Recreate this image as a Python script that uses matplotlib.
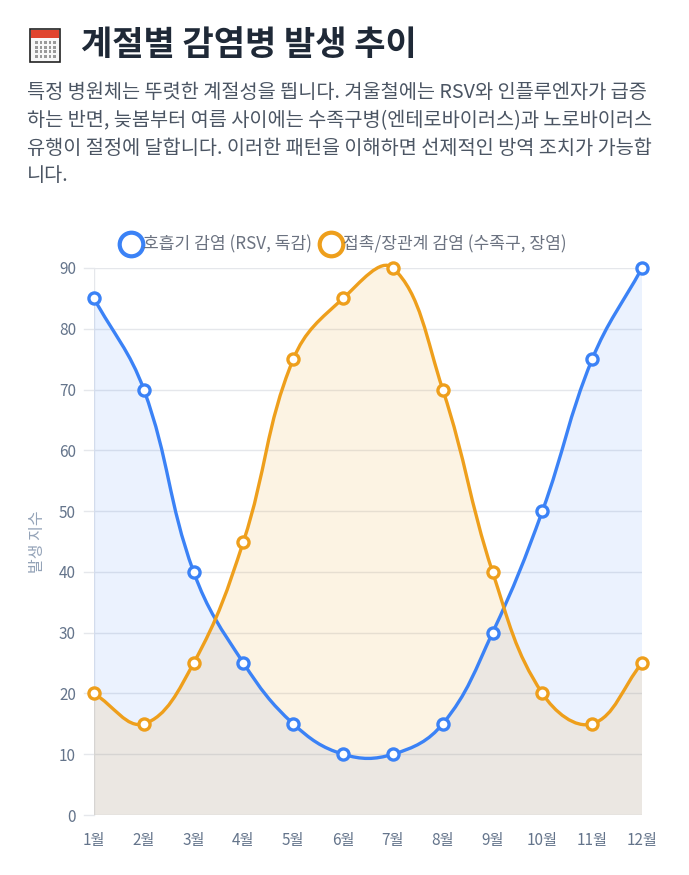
import numpy as np
import matplotlib.pyplot as plt
from matplotlib.path import Path
from matplotlib.patches import PathPatch, Rectangle

plt.rcParams['font.family'] = ['Noto Sans CJK KR', 'DejaVu Sans']

months = ['1월', '2월', '3월', '4월', '5월', '6월', '7월', '8월', '9월', '10월', '11월', '12월']
resp = [85, 70, 40, 25, 15, 10, 10, 15, 30, 50, 75, 90]
enteric = [20, 15, 25, 45, 75, 85, 90, 70, 40, 20, 15, 25]
labels = ['호흡기 감염 (RSV, 독감)', '접촉/장관계 감염 (수족구, 장염)']
blue = '#3b82f6'
orange = '#ee9f1c'

W, H = 689, 875
fig = plt.figure(figsize=(W / 100, H / 100), dpi=100)
ax = fig.add_axes([94 / W, 1 - 815 / H, (642 - 94) / W, (815 - 268) / H])
ax.set_xlim(0, 11)
ax.set_ylim(0, 90)

# pixel scale so the spline tension works like chart.js (tension 0.4)
sx = (642 - 94) / 11
sy = (815 - 268) / 90


def spline_path(vals, close=False):
    xs = np.arange(len(vals)) * sx
    ys = np.array(vals, float) * sy
    n = len(vals)
    cps = []
    t = 0.4
    for i in range(n):
        p = np.array([xs[i], ys[i]])
        prev = np.array([xs[max(i - 1, 0)], ys[max(i - 1, 0)]])
        nxt = np.array([xs[min(i + 1, n - 1)], ys[min(i + 1, n - 1)]])
        d01 = np.hypot(*(p - prev))
        d12 = np.hypot(*(nxt - p))
        tot = d01 + d12
        s01 = d01 / tot if tot else 0
        s12 = d12 / tot if tot else 0
        cp_prev = p - t * s01 * (nxt - prev)
        cp_next = p + t * s12 * (nxt - prev)
        cps.append((cp_prev, cp_next))
    verts = [(xs[0], ys[0])]
    codes = [Path.MOVETO]
    for i in range(n - 1):
        verts += [tuple(cps[i][1]), tuple(cps[i + 1][0]), (xs[i + 1], ys[i + 1])]
        codes += [Path.CURVE4] * 3
    verts = [(vx / sx, vy / sy) for vx, vy in verts]
    if close:
        verts += [(n - 1, 0), (0, 0), verts[0]]
        codes += [Path.LINETO, Path.LINETO, Path.CLOSEPOLY]
    return Path(verts, codes)


# grid
for v in range(0, 100, 10):
    ax.axhline(v, color='#e5e7eb', lw=1, zorder=0)
    ax.plot([-10 / sx, 0], [v, v], color='#e5e7eb', lw=1, clip_on=False, zorder=0)
ax.axvline(0, color='#e5e7eb', lw=1, zorder=0)

for vals, col, a in [(resp, blue, 0.1), (enteric, orange, 0.12)]:
    ax.add_patch(PathPatch(spline_path(vals, close=True), facecolor=col, alpha=a, lw=0, zorder=1))
for vals, col in [(resp, blue), (enteric, orange)]:
    ax.add_patch(PathPatch(spline_path(vals), facecolor='none', edgecolor=col, lw=2.4,
                           capstyle='round', joinstyle='round', zorder=3, clip_on=False))
    ax.plot(range(12), vals, 'o', ms=8, mfc='white', mec=col, mew=2.4, zorder=4, clip_on=False)

for s in ax.spines.values():
    s.set_visible(False)
ax.set_xticks(range(12))
ax.set_xticklabels(months)
ax.set_yticks(range(0, 100, 10))
ax.tick_params(length=0, colors='#64748b', labelsize=11)
ax.tick_params(axis='x', pad=12)
ax.tick_params(axis='y', pad=13)
for lbl in ax.get_xticklabels() + ax.get_yticklabels():
    lbl.set_fontweight('medium')
ax.set_ylabel('발생 지수', color='#94a3b8', fontsize=11.5, fontweight='medium', labelpad=9)

# title with a small drawn calendar icon
fig.patches.append(Rectangle((30 / W, 1 - 62 / H), 30 / W, 33 / H, transform=fig.transFigure,
                             facecolor='#f8f8f8', edgecolor='#222222', lw=1.2))
fig.patches.append(Rectangle((31 / W, 1 - 38 / H), 28 / W, 8 / H, transform=fig.transFigure,
                             facecolor='#e0452f', edgecolor='none'))
for r in range(4):
    for c in range(5):
        fig.patches.append(Rectangle(((35 + c * 4.5) / W, 1 - (44 + r * 4.5) / H), 2.5 / W, 2.5 / H,
                                     transform=fig.transFigure, facecolor='#9a9a9a', edgecolor='none'))
fig.text(81 / W, 1 - 45 / H, '계절별 감염병 발생 추이', fontsize=24.5, fontweight='bold',
         color='#1f2937', va='center', ha='left')

desc = ['특정 병원체는 뚜렷한 계절성을 띕니다. 겨울철에는 RSV와 인플루엔자가 급증',
        '하는 반면, 늦봄부터 여름 사이에는 수족구병(엔테로바이러스)과 노로바이러스',
        '유행이 절정에 달합니다. 이러한 패턴을 이해하면 선제적인 방역 조치가 가능합',
        '니다.']
for i, line in enumerate(desc):
    fig.text(27 / W, 1 - (93 + i * 27.5) / H, line, fontsize=14.2, color='#4b5563',
             va='center', ha='left')

# legend
for cx, tx, col, lab in [(131, 143, blue, labels[0]), (331, 343, orange, labels[1])]:
    fig.lines.append(plt.Line2D([cx / W], [1 - 244 / H], marker='o', ms=17, mfc='white',
                                mec=col, mew=3, transform=fig.transFigure))
    fig.text(tx / W, 1 - 244 / H, lab, fontsize=12.3, color='#6b7280', va='center', ha='left')

fig.savefig('out.png', dpi=100, facecolor='white')
